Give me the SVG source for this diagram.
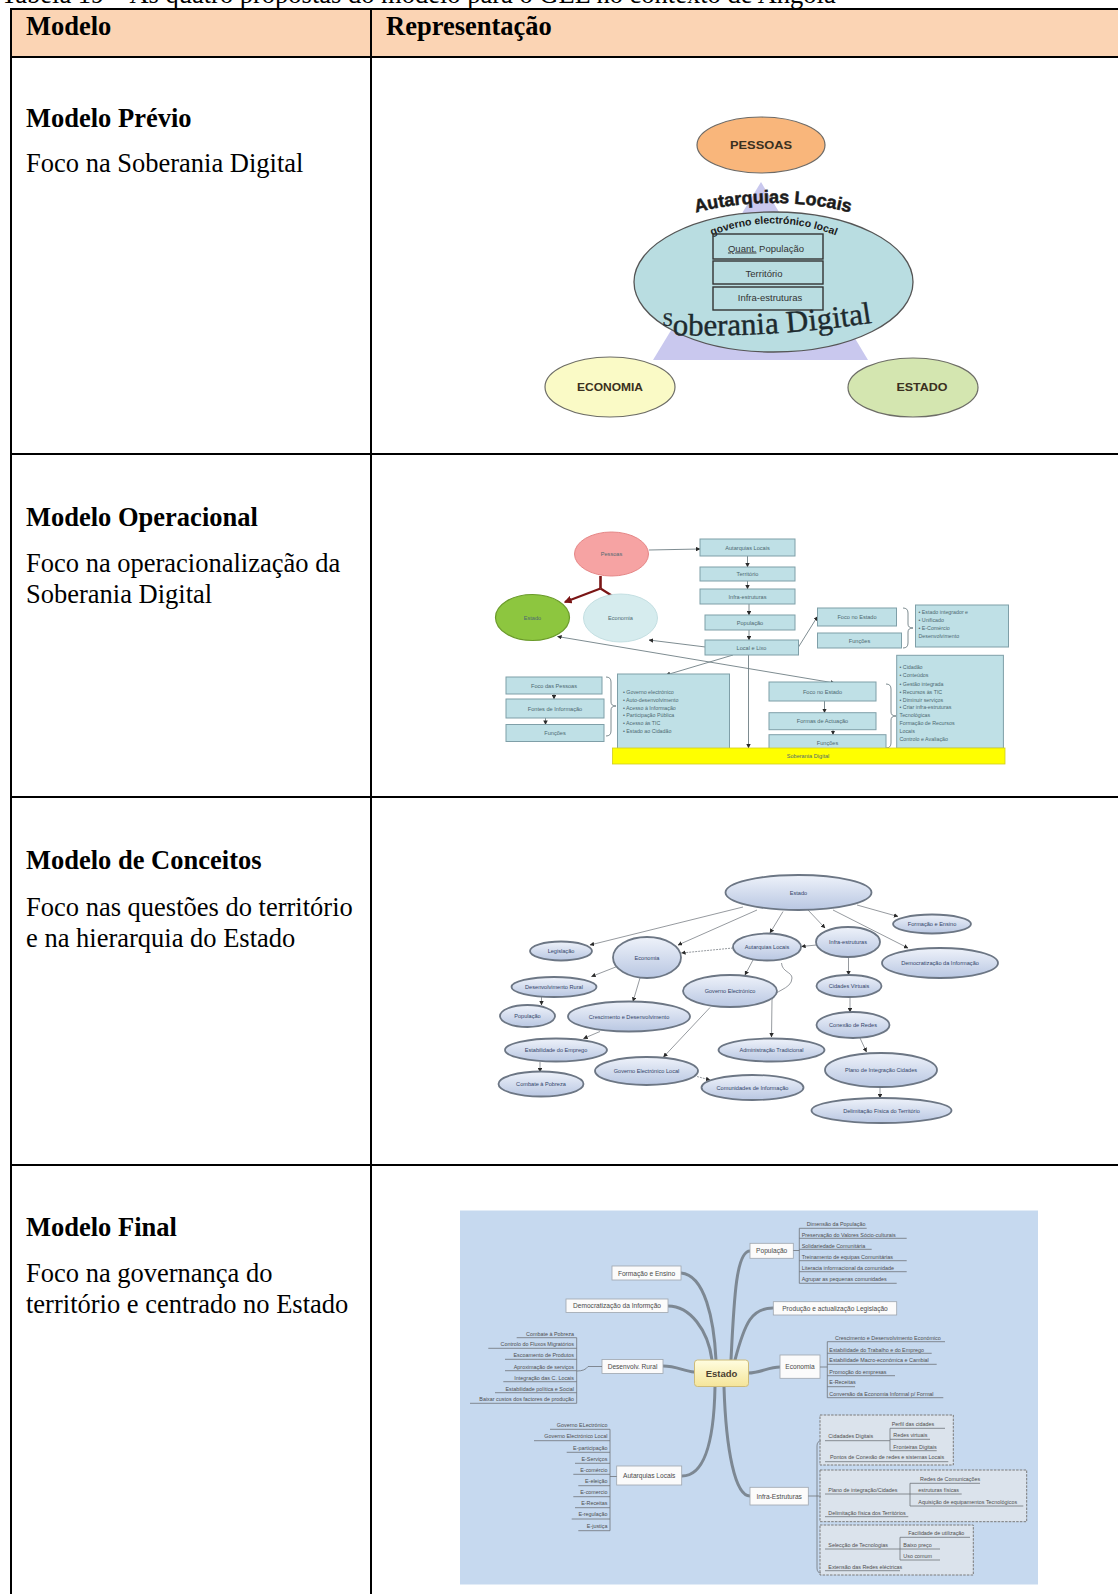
<svg xmlns="http://www.w3.org/2000/svg" width="1118" height="1594" viewBox="0 0 1118 1594">
<style>
  .cap { font-family: "Liberation Serif", "Times New Roman", serif; font-size: 26.5px; fill: #000; }
  .hd { font-family: "Liberation Serif", "Times New Roman", serif; font-size: 26.5px; font-weight: bold; fill: #000; }
  .grid { stroke: #000; stroke-width: 2; fill: none; }
  .d1 { font-family: "Liberation Sans", Arial, sans-serif; font-weight: bold; fill: #3a3020; text-anchor: middle; }
  .d1b { font-family: "Liberation Sans", Arial, sans-serif; font-size: 9.5px; fill: #333; text-anchor: middle; }
  .bx2 { fill: #bfe0e6; stroke: #7f9fa8; stroke-width: 1; }
  .t2 { font-family: "Liberation Sans", Arial, sans-serif; font-size: 5.6px; fill: #4e6a72; text-anchor: middle; }
  .t2l { font-family: "Liberation Sans", Arial, sans-serif; font-size: 5.3px; fill: #4e6a72; }
  .ln2 { stroke: #6f7f84; stroke-width: 0.9; fill: none; }
  .ov { fill: url(#ovg); stroke: #6c7684; stroke-width: 1.8; }
  .t3 { font-family: "Liberation Sans", Arial, sans-serif; font-size: 5.6px; fill: #33456a; text-anchor: middle; }
  .ln3 { stroke: #8a8e94; stroke-width: 0.9; fill: none; }
  .br { stroke: #7d8893; stroke-width: 3; fill: none; stroke-linecap: round; }
  .nb { fill: #fbfbfb; stroke: #9ea6ae; stroke-width: 0.8; }
  .t4 { font-family: "Liberation Sans", Arial, sans-serif; font-size: 6.6px; fill: #4a4a4a; text-anchor: middle; }
  .it { font-family: "Liberation Sans", Arial, sans-serif; font-size: 5.4px; fill: #4f4f4f; }
  .ite { font-family: "Liberation Sans", Arial, sans-serif; font-size: 5.4px; fill: #4f4f4f; text-anchor: end; }
  .ul { stroke: #6e747a; stroke-width: 0.8; fill: none; }
  .grp { fill: #dbe3ec; stroke: #7a7a7a; stroke-width: 1; stroke-dasharray: 2.5 1.2; }
</style>
<defs>
  <marker id="ah" viewBox="0 0 6 6" refX="5.5" refY="3" markerUnits="userSpaceOnUse" markerWidth="4.5" markerHeight="4.5" orient="auto-start-reverse">
    <path d="M0,0 L6,3 L0,6 z" fill="#2a2a2a"/>
  </marker>
  <marker id="ahr" viewBox="0 0 6 6" refX="5" refY="3" markerUnits="userSpaceOnUse" markerWidth="8" markerHeight="8" orient="auto">
    <path d="M0,0 L6,3 L0,6 z" fill="#7a1515"/>
  </marker>
  <linearGradient id="ovg" x1="0" y1="0" x2="0" y2="1">
    <stop offset="0" stop-color="#eef2fa"/>
    <stop offset="1" stop-color="#b9c7e2"/>
  </linearGradient>
  <linearGradient id="estg" x1="0" y1="0" x2="0" y2="1">
    <stop offset="0" stop-color="#fffde0"/>
    <stop offset="1" stop-color="#f5e59a"/>
  </linearGradient>
  <path id="arcAut" d="M686,215 Q773,191 860,215"/>
  <path id="arcGov" d="M695,243 Q773,204 853,243"/>
  <path id="arcSob" d="M662,334.5 Q770,339.5 886,320.5"/>
</defs>

<rect width="1118" height="1594" fill="#fff"/>

<!-- table caption, clipped at the page top -->
<text class="cap" x="1" y="3">Tabela 19 – As quatro propostas do modelo para o GEL no contexto de Angola</text>

<!-- table frame -->
<g id="table">
  <rect x="11" y="9" width="1107" height="48" fill="#fbd4b4"/>
  <line class="grid" x1="11" y1="9" x2="1118" y2="9"/>
  <line class="grid" x1="11" y1="57" x2="1118" y2="57"/>
  <line class="grid" x1="11" y1="454" x2="1118" y2="454"/>
  <line class="grid" x1="11" y1="797" x2="1118" y2="797"/>
  <line class="grid" x1="11" y1="1165" x2="1118" y2="1165"/>
  <line class="grid" x1="11" y1="8" x2="11" y2="1594"/>
  <line class="grid" x1="371" y1="8" x2="371" y2="1594"/>
  <text class="hd" x="26" y="35">Modelo</text>
  <text class="hd" x="386" y="35">Representação</text>
</g>

<!-- left column descriptions -->
<g id="desc-previo">
  <text class="hd" x="26" y="127">Modelo Prévio</text>
  <text class="cap" x="26" y="172">Foco na Soberania Digital</text>
</g>
<g id="desc-operacional">
  <text class="hd" x="26" y="526">Modelo Operacional</text>
  <text class="cap" x="26" y="572">Foco na operacionalização da</text>
  <text class="cap" x="26" y="603">Soberania Digital</text>
</g>
<g id="desc-conceitos">
  <text class="hd" x="26" y="869">Modelo de Conceitos</text>
  <text class="cap" x="26" y="916">Foco nas questões do território</text>
  <text class="cap" x="26" y="947">e na hierarquia do Estado</text>
</g>
<g id="desc-final">
  <text class="hd" x="26" y="1236">Modelo Final</text>
  <text class="cap" x="26" y="1282">Foco na governança do</text>
  <text class="cap" x="26" y="1313">território e centrado no Estado</text>
</g>

<!-- ===== Modelo Prévio ===== -->
<g id="previo">
  <polygon points="761,182 653,360 868,360" fill="#c9c8ee"/>
  <g id="n-pessoas">
    <ellipse cx="761" cy="145" rx="64" ry="28" fill="#f9b67b" stroke="#6d6a66" stroke-width="1.2"/>
    <text class="d1" x="761" y="149" font-size="11.5" textLength="62" lengthAdjust="spacingAndGlyphs">PESSOAS</text>
  </g>
  <g id="n-soberania">
    <ellipse cx="773.5" cy="282" rx="139.5" ry="70" fill="#b9dde1" stroke="#555" stroke-width="1.3"/>
    <text font-family="'Liberation Sans', Arial, sans-serif" font-weight="bold" font-size="18" fill="#1b1b1b" stroke="#1b1b1b" stroke-width="0.5" text-anchor="middle"><textPath href="#arcAut" startOffset="50%">Autarquias Locais</textPath></text>
    <text font-family="'Liberation Sans', Arial, sans-serif" font-weight="bold" font-size="10.5" fill="#1b1b1b" text-anchor="middle"><textPath href="#arcGov" startOffset="50%">governo electrónico local</textPath></text>
    <rect x="713" y="234" width="110" height="25" fill="none" stroke="#333" stroke-width="1.4"/>
    <rect x="713" y="261" width="110" height="23" fill="none" stroke="#333" stroke-width="1.4"/>
    <rect x="713" y="287" width="110" height="23" fill="none" stroke="#333" stroke-width="1.4"/>
    <text class="d1b" x="766" y="251.5"><tspan text-decoration="underline">Quant.</tspan> População</text>
    <text class="d1b" x="764" y="276.5">Território</text>
    <text class="d1b" x="770" y="300.5">Infra-estruturas</text>
    <text font-family="'Liberation Serif', 'Times New Roman', serif" font-size="31" fill="#1d2a2e" stroke="#1d2a2e" stroke-width="0.4"><textPath href="#arcSob"><tspan font-size="19" dy="-9">S</tspan><tspan dy="9">oberania Digital</tspan></textPath></text>
  </g>
  <g id="n-economia">
    <ellipse cx="610" cy="387" rx="65" ry="30" fill="#fafac6" stroke="#6d6d66" stroke-width="1.2"/>
    <text class="d1" x="610" y="391" font-size="11" textLength="66" lengthAdjust="spacingAndGlyphs">ECONOMIA</text>
  </g>
  <g id="n-estado">
    <ellipse cx="913" cy="387.5" rx="65" ry="29.5" fill="#d4e6b0" stroke="#6d6d66" stroke-width="1.2"/>
    <text class="d1" x="922" y="391" font-size="11" textLength="51" lengthAdjust="spacingAndGlyphs">ESTADO</text>
  </g>
</g>

<!-- ===== Modelo Operacional ===== -->
<g id="operacional">
  <g id="op-connectors">
    <path d="M600.5,576 L600.5,588.5" stroke="#7a1515" stroke-width="2.6" fill="none"/>
    <path d="M600.5,588.5 L565,602" stroke="#7a1515" stroke-width="2.2" fill="none" marker-end="url(#ahr)"/>
    <path d="M600.5,588.5 L622,602" stroke="#7a1515" stroke-width="2.2" fill="none" marker-end="url(#ahr)"/>
    <path class="ln2" d="M649,550 L700,549" marker-end="url(#ah)"/>
    <path class="ln2" d="M747.5,556 L747.5,567" marker-end="url(#ah)"/>
    <path class="ln2" d="M747.5,581 L747.5,589" marker-end="url(#ah)"/>
    <path class="ln2" d="M749,604 L749,615" marker-end="url(#ah)"/>
    <path class="ln2" d="M749,630 L749,640" marker-end="url(#ah)"/>
    <path class="ln2" d="M798.5,647 L817.5,616.5" marker-end="url(#ah)"/>
    <path class="ln2" d="M705.5,647 L649,640" marker-end="url(#ah)"/>
    <path class="ln2" d="M557.5,636.5 L834.5,683" marker-start="url(#ah)" marker-end="url(#ah)"/>
    <path class="ln2" d="M733,655 L666,675" marker-end="url(#ah)"/>
    <path class="ln2" d="M748.5,655 L748.5,748" marker-end="url(#ah)"/>
    <path class="ln2" d="M554,694 L554,699" marker-end="url(#ah)"/>
    <path class="ln2" d="M545.5,718 L545.5,724.5" marker-end="url(#ah)"/>
    <path class="ln2" d="M824.5,701 L824.5,712.7" marker-end="url(#ah)"/>
    <path class="ln2" d="M833,729.6 L833,734.7" marker-end="url(#ah)"/>
    <!-- braces -->
    <path class="ln2" d="M903,608 Q908,608 908,613 L908,624 Q908,628 913,628 Q908,628 908,632 L908,643 Q908,648 903,648"/>
    <path class="ln2" d="M606,677 Q611,677 611,682 L611,702 Q611,706 616,706 Q611,706 611,710 L611,731 Q611,736 606,736"/>
    <path class="ln2" d="M886,684 Q891,684 891,689 L891,712 Q891,716 896,716 Q891,716 891,720 L891,743 Q891,748 886,748"/>
  </g>
  <g id="op-pessoas">
    <ellipse cx="611.5" cy="554" rx="37" ry="22" fill="#f6a3a3" stroke="#e58686" stroke-width="1"/>
    <text class="t2" x="611.5" y="556" fill="#8a3a3a">Pessoas</text>
  </g>
  <g id="op-estado">
    <ellipse cx="532.5" cy="617.5" rx="37" ry="23" fill="#8dc63f" stroke="#6a9a2a" stroke-width="1.2"/>
    <text class="t2" x="532.5" y="619.5" fill="#2f4a12">Estado</text>
  </g>
  <g id="op-economia">
    <ellipse cx="620.5" cy="618" rx="37" ry="24" fill="#d6ecee" stroke="#c4dfe2" stroke-width="1"/>
    <text class="t2" x="620.5" y="620">Economia</text>
  </g>
  <g id="op-b1"><rect class="bx2" x="700" y="539" width="95" height="17"/><text class="t2" x="747.5" y="549.5">Autarquias Locais</text></g>
  <g id="op-b2"><rect class="bx2" x="700" y="567" width="95" height="14"/><text class="t2" x="747.5" y="576">Território</text></g>
  <g id="op-b3"><rect class="bx2" x="700" y="589" width="95" height="15"/><text class="t2" x="747.5" y="598.5">Infra-estruturas</text></g>
  <g id="op-b4"><rect class="bx2" x="705" y="615" width="90" height="15"/><text class="t2" x="750" y="624.5">População</text></g>
  <g id="op-b5"><rect class="bx2" x="705" y="640" width="93.5" height="15"/><text class="t2" x="751.5" y="649.5">Local e Lixo</text></g>
  <g id="op-foco-estado-1"><rect class="bx2" x="817.5" y="608" width="79" height="18"/><text class="t2" x="857" y="619">Foco no Estado</text></g>
  <g id="op-funcoes-1"><rect class="bx2" x="817.5" y="633" width="84" height="15"/><text class="t2" x="859.5" y="642.5">Funções</text></g>
  <g id="op-lista-1">
    <rect class="bx2" x="915.5" y="605" width="93" height="42"/>
    <text class="t2l" x="918.5" y="614">• Estado integrador e</text>
    <text class="t2l" x="918.5" y="622">• Unificado</text>
    <text class="t2l" x="918.5" y="630">• E-Comércio</text>
    <text class="t2l" x="918.5" y="638">Desenvolvimento</text>
  </g>
  <g id="op-foco-pessoas"><rect class="bx2" x="506" y="677" width="96" height="17"/><text class="t2" x="554" y="687.5">Foco das Pessoas</text></g>
  <g id="op-fontes"><rect class="bx2" x="506" y="699" width="98" height="19"/><text class="t2" x="555" y="710.5">Fontes de Informação</text></g>
  <g id="op-funcoes-2"><rect class="bx2" x="506" y="724.5" width="98" height="17"/><text class="t2" x="555" y="735">Funções</text></g>
  <g id="op-lista-2">
    <rect class="bx2" x="617.5" y="674" width="112" height="75"/>
    <text class="t2l" x="623" y="694">• Governo electrónico</text>
    <text class="t2l" x="623" y="702">• Auto-desenvolvimento</text>
    <text class="t2l" x="623" y="709.5">• Acesso à Informação</text>
    <text class="t2l" x="623" y="717">• Participação Pública</text>
    <text class="t2l" x="623" y="724.5">• Acesso às TIC</text>
    <text class="t2l" x="623" y="732.5">• Estado ao Cidadão</text>
  </g>
  <g id="op-foco-estado-2"><rect class="bx2" x="769" y="682" width="107" height="19"/><text class="t2" x="822.5" y="693.5">Foco no Estado</text></g>
  <g id="op-formas"><rect class="bx2" x="769" y="712.7" width="107" height="17"/><text class="t2" x="822.5" y="723">Formas de Actuação</text></g>
  <g id="op-funcoes-3"><rect class="bx2" x="769" y="734.7" width="117" height="17"/><text class="t2" x="827.5" y="744.5">Funções</text></g>
  <g id="op-lista-3">
    <rect class="bx2" x="896.7" y="655.3" width="106.7" height="93"/>
    <text class="t2l" x="899.5" y="668.5">• Cidadão</text>
    <text class="t2l" x="899.5" y="677">• Conteúdos</text>
    <text class="t2l" x="899.5" y="685.5">• Gestão integrada</text>
    <text class="t2l" x="899.5" y="694">• Recursos às TIC</text>
    <text class="t2l" x="899.5" y="701.5">• Diminuir serviços</text>
    <text class="t2l" x="899.5" y="709">• Criar infra-estruturas</text>
    <text class="t2l" x="899.5" y="717">Tecnológicas</text>
    <text class="t2l" x="899.5" y="724.5">Formação de Recursos</text>
    <text class="t2l" x="899.5" y="732.5">Locais</text>
    <text class="t2l" x="899.5" y="740.5">Controlo e Avaliação</text>
  </g>
  <g id="op-soberania">
    <rect x="612.5" y="748" width="392.5" height="16" fill="#ffff00" stroke="#d0cc20" stroke-width="0.8"/>
    <text class="t2" x="808" y="758" fill="#7d7420">Soberania Digital</text>
  </g>
</g>

<!-- ===== Modelo de Conceitos ===== -->
<g id="conceitos">
  <g id="mc-connectors">
    <path class="ln3" d="M743,907 L590,945" marker-end="url(#ah)"/>
    <path class="ln3" d="M757,910 L678,945" marker-end="url(#ah)"/>
    <path class="ln3" d="M783,911.5 L770,933" marker-end="url(#ah)"/>
    <path class="ln3" d="M808,910 L825,928" marker-end="url(#ah)"/>
    <path class="ln3" d="M857,905 L898,916.5" marker-end="url(#ah)"/>
    <path class="ln3" d="M833,910 L908,948" marker-end="url(#ah)"/>
    <path class="ln3" d="M733,948 L681.5,953" stroke-dasharray="2 1" marker-end="url(#ah)"/>
    <path class="ln3" d="M816.5,945 L801.5,946.5" marker-end="url(#ah)"/>
    <path class="ln3" d="M617,966.5 L591.5,976.5" marker-end="url(#ah)"/>
    <path class="ln3" d="M640,978 L633,1001.5" marker-end="url(#ah)"/>
    <path class="ln3" d="M753,960 L745,975" marker-end="url(#ah)"/>
    <path class="ln3" d="M781.5,963 C782,972 792,972 792,978 C792,990 772,990 772,1000 L771.5,1037" marker-end="url(#ah)"/>
    <path class="ln3" d="M848.5,957 L848.5,975" marker-end="url(#ah)"/>
    <path class="ln3" d="M850,997 L850,1012" marker-end="url(#ah)"/>
    <path class="ln3" d="M860,1038 L866.5,1052" marker-end="url(#ah)"/>
    <path class="ln3" d="M880,1087 L880,1098" marker-end="url(#ah)"/>
    <path class="ln3" d="M541.5,997 L541.5,1005" marker-end="url(#ah)"/>
    <path class="ln3" d="M600,1031.5 L583.5,1038.5" marker-end="url(#ah)"/>
    <path class="ln3" d="M540,1062 L540,1072" marker-end="url(#ah)"/>
    <path class="ln3" d="M710,1007.5 L663.5,1057" marker-end="url(#ah)"/>
    <path class="ln3" d="M697,1076.5 L710,1080" stroke-dasharray="2 1" marker-end="url(#ah)"/>
  </g>
  <g id="mc-estado"><ellipse class="ov" cx="798.5" cy="892.5" rx="73" ry="17.5"/><text class="t3" x="798.5" y="894.5">Estado</text></g>
  <g id="mc-formacao"><ellipse class="ov" cx="932" cy="924" rx="39" ry="9.5"/><text class="t3" x="932" y="926">Formação e Ensino</text></g>
  <g id="mc-legislacao"><ellipse class="ov" cx="561" cy="951" rx="31" ry="9.5"/><text class="t3" x="561" y="953">Legislação</text></g>
  <g id="mc-economia"><ellipse class="ov" cx="647" cy="957.5" rx="34" ry="20.5"/><text class="t3" x="647" y="959.5">Economia</text></g>
  <g id="mc-autarquias"><ellipse class="ov" cx="767" cy="947" rx="34" ry="13.5"/><text class="t3" x="767" y="949">Autarquias Locais</text></g>
  <g id="mc-infra"><ellipse class="ov" cx="848" cy="942" rx="32" ry="15"/><text class="t3" x="848" y="944">Infra-estruturas</text></g>
  <g id="mc-democratizacao"><ellipse class="ov" cx="940" cy="963" rx="58" ry="15"/><text class="t3" x="940" y="965">Democratização da Informação</text></g>
  <g id="mc-desenvolvimento"><ellipse class="ov" cx="554" cy="987" rx="42.5" ry="10"/><text class="t3" x="554" y="989">Desenvolvimento Rural</text></g>
  <g id="mc-governo"><ellipse class="ov" cx="730" cy="991" rx="47" ry="16"/><text class="t3" x="730" y="993">Governo Electrónico</text></g>
  <g id="mc-cidades"><ellipse class="ov" cx="849" cy="986" rx="32.5" ry="11"/><text class="t3" x="849" y="988">Cidades Virtuais</text></g>
  <g id="mc-populacao"><ellipse class="ov" cx="527.5" cy="1016" rx="27.5" ry="11"/><text class="t3" x="527.5" y="1018">População</text></g>
  <g id="mc-crescimento"><ellipse class="ov" cx="629" cy="1016.5" rx="61" ry="15"/><text class="t3" x="629" y="1018.5">Crescimento e Desenvolvimento</text></g>
  <g id="mc-conexao"><ellipse class="ov" cx="853" cy="1025" rx="36.5" ry="13"/><text class="t3" x="853" y="1027">Conexão de Redes</text></g>
  <g id="mc-estabilidade"><ellipse class="ov" cx="556" cy="1050" rx="51" ry="11.5"/><text class="t3" x="556" y="1052">Estabilidade do Emprego</text></g>
  <g id="mc-administracao"><ellipse class="ov" cx="771.5" cy="1050" rx="53" ry="11.5"/><text class="t3" x="771.5" y="1052">Administração Tradicional</text></g>
  <g id="mc-governo-local"><ellipse class="ov" cx="646.5" cy="1071" rx="51.5" ry="14"/><text class="t3" x="646.5" y="1073">Governo Electrónico Local</text></g>
  <g id="mc-plano"><ellipse class="ov" cx="881" cy="1070" rx="56" ry="17"/><text class="t3" x="881" y="1072">Plano de Integração Cidades</text></g>
  <g id="mc-combate"><ellipse class="ov" cx="541" cy="1084" rx="42.5" ry="12.5"/><text class="t3" x="541" y="1086">Combate à Pobreza</text></g>
  <g id="mc-comunidades"><ellipse class="ov" cx="752.5" cy="1087.5" rx="51" ry="12.5"/><text class="t3" x="752.5" y="1089.5">Comunidades de Informação</text></g>
  <g id="mc-delimitacao"><ellipse class="ov" cx="881.5" cy="1110.5" rx="70" ry="12.5"/><text class="t3" x="881.5" y="1112.5">Delimitação Física do Território</text></g>
</g>

<!-- ===== Modelo Final (mind map) ===== -->
<g id="final">
  <rect x="460" y="1210.5" width="578" height="374" fill="#c6d9ef"/>
  <g id="mf-branches">
    <path class="br" d="M681,1273 C705,1275 714,1320 716,1360"/>
    <path class="br" d="M668,1306 C690,1306 708,1330 712,1360"/>
    <path class="br" d="M663,1366 C676,1366 684,1371 694,1372"/>
    <path class="br" d="M731,1360 C734,1300 736,1251 750,1251"/>
    <path class="br" d="M735,1360 C745,1322 752,1308 773,1308"/>
    <path class="br" d="M748,1373 C761,1373 768,1367 780,1367"/>
    <path class="br" d="M715,1387 C714,1440 705,1476 682,1476"/>
    <path class="br" d="M724,1387 C726,1450 735,1496 750,1496"/>
  </g>
  <g id="mf-estado">
    <rect x="694.5" y="1360" width="54" height="26.5" rx="3" fill="url(#estg)" stroke="#cdbb7a" stroke-width="1"/>
    <text x="721.5" y="1376.5" font-family="'Liberation Sans', Arial, sans-serif" font-size="9.5" font-weight="bold" fill="#4a4030" text-anchor="middle">Estado</text>
  </g>
  <g id="mf-formacao"><rect class="nb" x="612" y="1266" width="69" height="14"/><text class="t4" x="646.5" y="1275.5">Formação e Ensino</text></g>
  <g id="mf-democratizacao"><rect class="nb" x="566" y="1299" width="102" height="13.5"/><text class="t4" x="617" y="1308">Democratização da Informção</text></g>
  <g id="mf-rural">
    <rect class="nb" x="602" y="1359.5" width="61" height="14"/><text class="t4" x="632.5" y="1369">Desenvolv. Rural</text>
    <path class="ul" d="M577,1371 Q585,1371 588,1366.5 L602,1366.5"/>
    <path class="ul" d="M576.7,1337.7 L576.7,1403.3"/>
    <path class="ul" d="M516.7,1337.7 H576.7 M488.3,1348.3 H576.7 M505,1359.3 H576.7 M505,1370.7 H576.7 M503.3,1381.7 H576.7 M495,1392.7 H576.7 M470,1403.3 H576.7"/>
    <text class="ite" x="574" y="1335.5">Combate à Pobreza</text>
    <text class="ite" x="574" y="1346.3">Controlo do Fluxos Migratórios</text>
    <text class="ite" x="574" y="1357.2">Escoamento de Produtos</text>
    <text class="ite" x="574" y="1368.7">Aproximação de serviços</text>
    <text class="ite" x="574" y="1379.6">Integração das C. Locais</text>
    <text class="ite" x="574" y="1390.6">Estabilidade  política e Social</text>
    <text class="ite" x="574" y="1401.2">Baixar custos dos factores de produção</text>
  </g>
  <g id="mf-populacao">
    <rect class="nb" x="750" y="1243.3" width="43.3" height="15"/><text class="t4" x="771.7" y="1253">População</text>
    <path class="ul" d="M793.3,1250.5 L799.3,1250.5 M799.3,1228.3 L799.3,1283.3"/>
    <path class="ul" d="M799.3,1228.3 H866.7 M799.3,1238.3 H906.7 M799.3,1249.3 H871.7 M799.3,1260.7 H906.7 M799.3,1271.7 H906.7 M799.3,1283.3 H896.7"/>
    <text class="it" x="806.7" y="1226.2">Dimensão da População</text>
    <text class="it" x="801.7" y="1236.5">Preservação do Valores Sócio-culturais</text>
    <text class="it" x="801.7" y="1247.5">Solidariedade Comunitária</text>
    <text class="it" x="801.7" y="1258.7">Treinamento de equipas Comunitárias</text>
    <text class="it" x="801.7" y="1269.7">Literacia informacional da comunidade</text>
    <text class="it" x="801.7" y="1281">Agrupar as pequenas comunidades</text>
  </g>
  <g id="mf-producao"><rect class="nb" x="773.3" y="1301.7" width="123.4" height="13.3"/><text class="t4" x="835" y="1310.8">Produção e actualização Legislação</text></g>
  <g id="mf-economia">
    <rect class="nb" x="780" y="1355" width="40" height="23.3"/><text class="t4" x="800" y="1369">Economia</text>
    <path class="ul" d="M820,1367 L827.3,1367 M827.3,1341.7 L827.3,1397.7"/>
    <path class="ul" d="M827.3,1341.7 H945 M827.3,1353.3 H931.7 M827.3,1364.3 H936.7 M827.3,1375.7 H895 M827.3,1386.7 H855 M827.3,1397.7 H943.3"/>
    <text class="it" x="835" y="1339.8">Crescimento e Desenvolvimento Económico</text>
    <text class="it" x="829.3" y="1351.5">Estabilidade do Trabalho e do Emprego</text>
    <text class="it" x="829.3" y="1362.4">Estabilidade Macro-económica e Cambial</text>
    <text class="it" x="829.3" y="1373.6">Promoção do empresas</text>
    <text class="it" x="829.3" y="1384.4">E-Receitas</text>
    <text class="it" x="829.3" y="1395.5">Conversão da Economia Informal p/ Formal</text>
  </g>
  <g id="mf-autarquias">
    <rect class="nb" x="616.7" y="1466" width="65" height="19"/><text class="t4" x="649.2" y="1478">Autarquias Locais</text>
    <path class="ul" d="M610,1476.5 L616.7,1476.5 M610,1429.3 L610,1530.7"/>
    <path class="ul" d="M550,1429.3 H610 M534,1440.7 H610 M566.7,1452.3 H610 M575,1463.3 H610 M573.3,1474.3 H610 M578.3,1485.7 H610 M573.3,1496.7 H610 M575,1507.7 H610 M571.7,1519 H610 M578.3,1530.7 H610"/>
    <text class="ite" x="607.5" y="1427">Governo ELectrónico</text>
    <text class="ite" x="607.5" y="1438">Governo Electrónico Local</text>
    <text class="ite" x="607.5" y="1449.7">E-participação</text>
    <text class="ite" x="607.5" y="1461">E-Serviços</text>
    <text class="ite" x="607.5" y="1472">E-comércio</text>
    <text class="ite" x="607.5" y="1483">E-eleição</text>
    <text class="ite" x="607.5" y="1493.7">E-comercio</text>
    <text class="ite" x="607.5" y="1504.7">E-Receitas</text>
    <text class="ite" x="607.5" y="1516.3">E-regulação</text>
    <text class="ite" x="607.5" y="1527.7">E-justiça</text>
  </g>
  <g id="mf-infra">
    <rect class="grp" x="820" y="1415" width="133.3" height="50"/>
    <rect class="grp" x="820" y="1470" width="206.7" height="51.7"/>
    <rect class="grp" x="820" y="1525" width="153.3" height="50"/>
    <rect class="nb" x="750" y="1487.3" width="58.3" height="17.7"/><text class="t4" x="779.2" y="1498.5">Infra-Estruturas</text>
    <path class="ul" d="M808.3,1496 L817,1496 M821,1441 Q817,1441 817,1446 L817,1568 Q817,1573 821,1573 M817,1496 L821,1496"/>
    <!-- cidades digitais -->
    <path class="ul" d="M825,1440.7 H890 M890,1428.3 V1450.7 M890,1428.3 H945 M890,1439.3 H930 M890,1450.7 H936.7 M825,1461.7 H948.3"/>
    <text class="it" x="828.3" y="1438">Cidadades Digitais</text>
    <text class="it" x="891.7" y="1426">Perfil das cidades</text>
    <text class="it" x="893.3" y="1437">Redes  virtuais</text>
    <text class="it" x="893.3" y="1448.7">Fronteiras Digitais</text>
    <text class="it" x="830" y="1459.3">Pontos de Conexão de redes e sistemas Locais</text>
    <!-- plano de integração -->
    <path class="ul" d="M825,1494 H910 M910,1483.3 V1506 M910,1483.3 H980 M910,1494 H961.7 M910,1506 H1023.3 M825,1516.7 H908.3"/>
    <text class="it" x="920" y="1481.3">Redes de Comunicações</text>
    <text class="it" x="828.3" y="1492">Plano de integração/Cidades</text>
    <text class="it" x="918.3" y="1492">estruturas físicas</text>
    <text class="it" x="918.3" y="1503.7">Aquisição de equipamentos Tecnológicos</text>
    <text class="it" x="828.3" y="1514.7">Delimitação física dos Territórios</text>
    <!-- selecção de tecnologias -->
    <path class="ul" d="M825,1549 H900 M900,1537.3 V1560 M900,1537.3 H970 M900,1549 H940 M900,1560 H940 M825,1570.7 H900"/>
    <text class="it" x="908.3" y="1535.3">Facilidade de utilização</text>
    <text class="it" x="828.3" y="1547">Selecção de Tecnologias</text>
    <text class="it" x="903.3" y="1547">Baixo preço</text>
    <text class="it" x="903.3" y="1558">Uso comum</text>
    <text class="it" x="828.3" y="1568.7">Extensão das Redes eléctricas</text>
  </g>
</g>
</svg>
